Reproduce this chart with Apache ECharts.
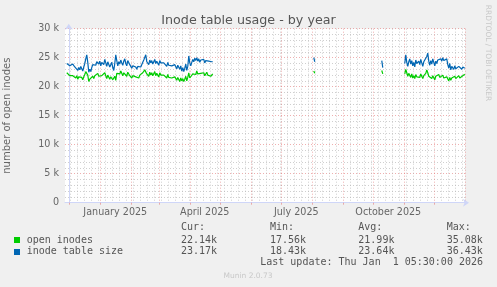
<!DOCTYPE html>
<html><head><meta charset="utf-8">
<style>html,body{margin:0;padding:0;background:#F0F0F0;}#c{width:497px;height:287px;}</style>
<script src="https://cdn.jsdelivr.net/npm/echarts@6/dist/echarts.min.js"></script>
</head><body><div id="c"></div>
<script>
// x axis unit: days since 2024-12-01 00:00 (plot spans Nov 27 2024 05:30 .. Jan 1 2026 05:30)
const xMin = -3.77, xMax = 396.23;
const monthStarts = [0, 31, 62, 90, 121, 151, 182, 212, 243, 274, 304, 335, 365, 396];
const monthLabelPos = [46.5, 136, 227.5, 319.5];
const monthLabels = ['January 2025', 'April 2025', 'July 2025', 'October 2025'];
const yTickValues = [0, 5000, 10000, 15000, 20000, 25000, 30000];
const yTickLabels = ['0', '5 k', '10 k', '15 k', '20 k', '25 k', '30 k'];

// segments: [startDay, values in thousands]
const openSeg1Start = -2;
const openSeg1 = [22.4,22.2,22.3,21.9,22.1,21.7,21.9,21.6,21.8,
 21.5,21.9,21.3,21.7,21.4,21.8,21.6,21.2,21.7,22.1,
 22.6,22.9,22.0,
 20.9,21.3,21.0,21.5,21.8,21.4,21.9,
 21.6,22.0,22.3,21.8,22.1,21.5,21.9,22.2,21.7,22.4,21.9,21.4,22.0,21.8,21.3,
 21.7,22.0,21.2,20.9,21.8,
 21.1,22.3,
 22.0,22.5,22.2,22.7,22.3,21.9,22.4,22.6,22.1,21.8,22.5,22.2,21.9,
 21.8,21.5,21.9,21.6,22.0,21.7,21.4,21.8,21.5,22.0,21.7,21.9,22.4,22.7,22.9,
 23.1,22.2,
 22.3,21.8,22.5,22.0,22.4,21.9,22.2,22.6,21.9,22.3,22.1,21.7,22.4,22.0,22.2,21.8,
 22.0,21.7,21.9,21.5,22.1,21.6,21.4,21.9,21.5,21.8,21.3,21.7,21.4,21.1,21.6,21.3,20.9,21.5,21.0,21.4,20.9,21.3,21.8,21.0,21.6,
 22.4,21.5,
 21.3,21.8,22.2,21.9,22.5,22.1,22.7,22.2,22.5,22.0,22.3,22.6,22.1,22.4,21.9,22.2,22.5,22.0,21.9,22.1,21.8,22.0,22.2];
const sizeSeg1 = [24.0,23.9,24.1,23.6,23.8,23.5,23.9,23.7,23.4,
 23.2,23.6,22.8,23.3,22.9,23.5,23.1,22.7,23.4,24.0,
 24.8,25.5,24.2,
 22.5,23.0,22.6,23.3,23.8,23.5,24.1,
 23.7,24.3,24.6,23.9,24.4,23.6,24.2,24.5,23.8,24.7,24.1,23.5,24.3,24.0,23.4,
 23.8,24.2,23.3,22.8,24.0,
 25.5,24.5,
 23.6,24.3,23.9,24.6,24.1,23.7,24.4,24.8,24.0,23.6,24.5,24.2,23.8,
 23.5,23.2,23.6,23.3,23.7,23.4,23.0,23.5,23.2,23.8,23.4,23.6,24.2,24.6,24.9,
 25.5,24.3,
 24.4,23.8,24.6,24.1,24.5,23.9,24.3,24.7,24.0,24.4,24.2,23.7,24.5,24.1,24.3,23.9,
 24.1,23.8,24.0,23.5,24.2,23.7,23.4,24.0,23.6,23.9,23.3,23.8,23.5,23.1,23.7,23.4,23.0,23.6,22.7,23.3,22.6,23.2,23.9,22.8,23.5,
 25.3,24.1,
 23.6,24.2,24.7,24.3,24.9,24.5,25.0,24.4,24.8,24.2,24.6,24.9,24.3,24.7,24.1,24.5,24.8,24.2,24.4,24.6,24.1,24.3,24.3];
const seg2Start = 245;
const openSeg2 = [22.7, 22.3];
const sizeSeg2 = [25.0, 24.3];
const seg3Start = 313;
const openSeg3 = [22.8, 22.2];
const sizeSeg3 = [24.5, 23.3];
const seg4Start = 336;
const openSeg4 = [22.2,23.0,22.4,
 21.8,22.3,22.0,21.6,22.2,21.5,21.9,21.4,22.1,21.7,21.5,22.0,21.6,22.2,21.8,21.4,21.9,21.6,22.3,
 22.9,22.4,21.8,
 21.5,22.0,21.4,21.9,21.6,21.2,21.8,21.5,21.9,
 22.1,21.6,21.9,21.4,22.0,21.5,21.8,21.3,21.7,
 21.4,21.0,21.6,21.1,21.5,
 21.6,21.2,21.8,21.4,21.7,21.2,21.9,21.5,21.8,21.4,21.9,22.0,22.14];
const sizeSeg4 = [24.0,25.5,24.2,
 23.5,24.3,24.8,23.9,24.5,23.6,24.2,23.4,24.6,24.0,23.7,24.4,23.8,24.7,24.1,23.5,24.3,24.0,24.6,
 25.2,25.8,24.4,
 23.7,24.5,23.9,24.8,24.2,23.6,24.4,24.0,24.6,
 24.9,24.3,24.8,24.4,25.0,24.5,24.7,24.2,24.8,
 23.8,23.2,24.0,22.9,23.5,
 23.3,23.0,23.6,23.1,23.4,22.9,23.5,23.2,23.6,23.0,23.4,23.2,23.17];

const legendNames = ['open inodes', 'inode table size'];
const legendColors = ['#00CC00', '#0066B3'];
const curVals = ['22.14k', '23.17k'];
const minVals = ['17.56k', '18.43k'];
const avgVals = ['21.99k', '23.64k'];
const maxVals = ['35.08k', '36.43k'];

function build(segs) {
  const out = [];
  segs.forEach(function (s, i) {
    if (i > 0) out.push([s[0] - 0.5, null]);
    s[1].forEach(function (v, j) { out.push([s[0] + j, v * 1000]); });
  });
  return out;
}
const openData = build([[openSeg1Start, openSeg1], [seg2Start, openSeg2], [seg3Start, openSeg3], [seg4Start, openSeg4]]);
const sizeData = build([[openSeg1Start, sizeSeg1], [seg2Start, sizeSeg2], [seg3Start, sizeSeg3], [seg4Start, sizeSeg4]]);

const weekLines = [];
for (let d = 1; d < xMax; d += 7) { if (monthStarts.indexOf(d) < 0) weekLines.push(d); }

const F = 'DejaVu Sans';
const M = 'DejaVu Sans Mono';
const axisCol = '#CFD6F8';
const majorCol = 'rgba(225,110,110,0.55)';
const minorCol = 'rgba(175,175,175,0.6)';
const chart = echarts.init(document.getElementById('c'), null, {renderer: 'canvas'});
const colX = [181, 270, 358.3, 446.7];
const heads = ['Cur:', 'Min:', 'Avg:', 'Max:'];
const graphics = [];
heads.forEach(function (h, i) {
  graphics.push({type: 'text', x: colX[i], y: 227.7, style: {text: h, font: '10px "' + M + '"', fill: '#555', verticalAlign: 'middle'}});
});
[curVals, minVals, avgVals, maxVals].forEach(function (arr, i) {
  arr.forEach(function (t, r) {
    graphics.push({type: 'text', x: colX[i], y: 240 + r * 11.7, style: {text: t, font: '10px "' + M + '"', fill: '#555', verticalAlign: 'middle'}});
  });
});
legendNames.forEach(function (n, r) {
  graphics.push({type: 'rect', shape: {x: 14, y: 237 + r * 12, width: 6, height: 6}, style: {fill: legendColors[r]}});
  graphics.push({type: 'text', x: 26.7, y: 240 + r * 11.7, style: {text: n, font: '10px "' + M + '"', fill: '#555', verticalAlign: 'middle'}});
});
graphics.push({type: 'text', x: 483, y: 262.7, style: {text: 'Last update: Thu Jan  1 05:30:00 2026', font: '10px "' + M + '"', fill: '#555', align: 'right', verticalAlign: 'middle'}});
graphics.push({type: 'text', x: 248, y: 276, style: {text: 'Munin 2.0.73', font: '7.5px "' + F + '"', fill: '#C8C8C8', align: 'center', verticalAlign: 'middle'}});
graphics.push({type: 'text', x: 488, y: 53, rotation: -Math.PI / 2, style: {text: 'RRDTOOL / TOBI OETIKER', font: '7.5px "' + F + '"', fill: '#C8C8C8', align: 'center', verticalAlign: 'middle'}});

chart.setOption({
  animation: false,
  backgroundColor: '#F0F0F0',
  title: {text: 'Inode table usage - by year', left: 'center', top: 9, textStyle: {fontFamily: F, fontSize: 12.7, fontWeight: 'normal', color: '#555'}},
  grid: {left: 65, right: 32, top: 28.7, bottom: 84.3, show: true, backgroundColor: '#FFFFFF', borderWidth: 0, containLabel: false, outerBoundsMode: 'none'},
  xAxis: [{
    type: 'value', min: xMin, max: xMax, position: 'bottom',
    axisLine: {show: true, onZero: false, lineStyle: {color: axisCol, width: 1}, symbol: ['none', 'arrow'], symbolSize: [6, 6], symbolOffset: [0, 4]},
    axisTick: {show: true, length: 2, inside: false, customValues: monthStarts, lineStyle: {color: majorCol}},
    axisLabel: {show: true, customValues: monthLabelPos, margin: 5, fontFamily: F, fontSize: 9.6, color: '#666',
      formatter: function (v) { let k = 0, b = 1e9; monthLabelPos.forEach(function (p, i) { if (Math.abs(p - v) < b) { b = Math.abs(p - v); k = i; } }); return monthLabels[k]; }},
    splitLine: {show: true, lineStyle: {color: majorCol, type: [1, 2], width: 1}}
  }, {
    type: 'value', min: xMin, max: xMax, position: 'top',
    axisLine: {show: false}, axisLabel: {show: false},
    axisTick: {show: false, customValues: weekLines},
    splitLine: {show: true, lineStyle: {color: minorCol, type: [1, 2], width: 1}}
  }],
  yAxis: {
    type: 'value', min: 0, max: 30000, interval: 5000,
    name: 'number of open inodes', nameLocation: 'middle', nameRotate: 90, nameGap: 53,
    nameTextStyle: {fontFamily: F, fontSize: 10, color: '#666'},
    axisLine: {show: true, lineStyle: {color: axisCol, width: 1}, symbol: ['none', 'arrow'], symbolSize: [6, 6], symbolOffset: [0, 5]},
    axisTick: {show: false},
    axisLabel: {margin: 6, fontFamily: F, fontSize: 9.6, color: '#666',
      formatter: function (v) { const i = yTickValues.indexOf(v); return i >= 0 ? yTickLabels[i] : ''; }},
    splitLine: {show: true, lineStyle: {color: majorCol, type: [1, 2], width: 1}},
    minorTick: {show: false, splitNumber: 5},
    minorSplitLine: {show: true, lineStyle: {color: minorCol, type: [1, 2], width: 1}}
  },
  series: [{
    name: legendNames[0], type: 'line', data: openData, xAxisIndex: 0, showSymbol: false, connectNulls: false,
    lineStyle: {color: legendColors[0], width: 1.2}, itemStyle: {color: legendColors[0]}, z: 3
  }, {
    name: legendNames[1], type: 'line', data: sizeData, xAxisIndex: 0, showSymbol: false, connectNulls: false,
    lineStyle: {color: legendColors[1], width: 1.2}, itemStyle: {color: legendColors[1]}, z: 4
  }],
  graphic: graphics
});
</script></body></html>
